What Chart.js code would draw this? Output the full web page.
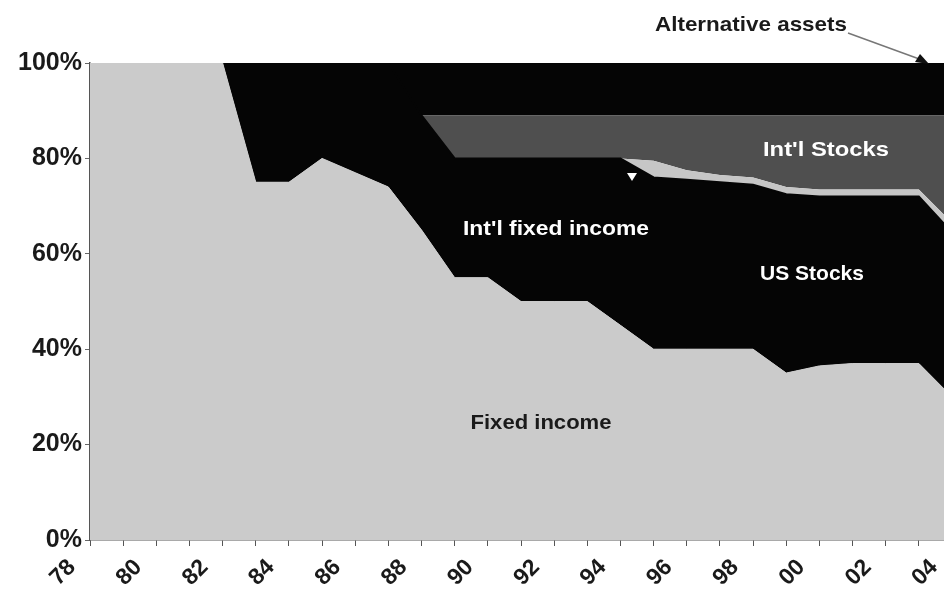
<!DOCTYPE html>
<html>
<head>
<meta charset="utf-8">
<script src="https://cdn.jsdelivr.net/npm/chart.js@4.4.1/dist/chart.umd.min.js"></script>
<style>
  html, body { margin: 0; padding: 0; background: #fff; overflow: hidden; }
  #wrap { width: 960px; height: 603px; position: relative; }
</style>
</head>
<body>
<div id="wrap"><canvas id="allocChart"></canvas></div>
<script>
// allocation by year, percent of portfolio (stacked bottom to top)
const years = ['78','79','80','81','82','83','84','85','86','87','88','89','90','91','92','93','94','95','96','97','98','99','00','01','02','03','04'];
const fixedIncome = [100,100,100,100,100,75,75,80,77,74,65,55,55,50,50,50,45,40,40,40,40,35,36.5,37,37,37,30];
const usStocks    = [0,0,0,0,0,25,25,20,23,26,24,25,25,30,30,30,35,36,35.5,35,34.5,37.5,35.5,35,35,35,34.5];
const intlFixed   = [0,0,0,0,0,0,0,0,0,0,0,0,0,0,0,0,0,3.5,2,1.5,1.5,1.5,1.5,1.5,1.5,1.5,2];
const intlStocks  = [0,0,0,0,0,0,0,0,0,0,0,9,9,9,9,9,9,9.5,11.5,12.5,13,15,15.5,15.5,15.5,15.5,22.5];
const altAssets   = [0,0,0,0,0,0,0,0,0,0,11,11,11,11,11,11,11,11,11,11,11,11,11,11,11,11,11];
const yTicks = [0, 20, 40, 60, 80, 100];

const FONT = '"Liberation Sans", Arial, sans-serif';

// draw a label stretched to a given width (the source lettering is wide)
function wideText(c, text, cx, cy, w) {
    const m = c.measureText(text).width;
    c.save();
    c.translate(cx, cy);
    c.scale(w / m, 1);
    c.fillText(text, 0, 0);
    c.restore();
}

const annotations = {
    id: 'annotations',
    afterDatasetsDraw(chart) {
        const c = chart.ctx;
        c.save();
        c.font = 'bold 21px ' + FONT;
        c.textAlign = 'center';
        c.textBaseline = 'middle';

        c.fillStyle = '#ffffff';
        wideText(c, "Int'l Stocks", 826, 150, 126);
        wideText(c, "Int'l fixed income", 556, 229, 186);
        wideText(c, 'US Stocks', 812, 274, 104);

        c.fillStyle = '#1a1a1a';
        wideText(c, 'Fixed income', 541, 423, 141);
        wideText(c, 'Alternative assets', 751, 25, 192);

        // leader line to the top band
        c.strokeStyle = '#777';
        c.lineWidth = 1.5;
        c.beginPath();
        c.moveTo(848, 33);
        c.lineTo(922, 60);
        c.stroke();
        c.fillStyle = '#111';
        c.beginPath();
        c.moveTo(929, 64);
        c.lineTo(915, 62);
        c.lineTo(920, 54);
        c.closePath();
        c.fill();

        // small pointer to the int'l fixed income band
        c.fillStyle = '#ffffff';
        c.beginPath();
        c.moveTo(627, 173);
        c.lineTo(637, 173);
        c.lineTo(632, 181);
        c.closePath();
        c.fill();
        c.restore();
    }
};

function area(label, data, color, fill, edge, width) {
    return {
        label: label,
        data: data,
        backgroundColor: color,
        borderColor: edge,
        borderWidth: width,
        pointRadius: 0,
        tension: 0,
        fill: fill
    };
}

new Chart(document.getElementById('allocChart'), {
    type: 'line',
    data: {
        labels: years,
        datasets: [
            area('Fixed income', fixedIncome, '#cbcbcb', 'origin', '#cbcbcb', 1),
            area('US Stocks', usStocks, '#050505', '-1', '#050505', 2),
            area("Int'l fixed income", intlFixed, '#c6c6c6', '-1', 'transparent', 0),
            area("Int'l Stocks", intlStocks, '#4f4f4f', '-1', 'transparent', 0),
            area('Alternative assets', altAssets, '#050505', '-1', '#050505', 1)
        ]
    },
    options: {
        responsive: true,
        maintainAspectRatio: false,
        animation: false,
        layout: { padding: { top: 63, right: 8, bottom: 0, left: 0 } },
        plugins: {
            legend: { display: false },
            tooltip: { enabled: false }
        },
        scales: {
            x: {
                offset: false,
                grid: { drawOnChartArea: false, tickLength: 6, color: '#555' },
                border: { display: true, color: '#555', width: 1.5 },
                ticks: {
                    autoSkip: false,
                    minRotation: 45,
                    maxRotation: 45,
                    color: '#1a1a1a',
                    font: { family: FONT, size: 23, weight: 'bold' },
                    padding: 8,
                    labelOffset: -18,
                    callback: (v, i) => (i % 2 === 0 ? years[i] : '')
                },
                afterFit: (axis) => {
                    axis.height = 63;
                    axis.paddingLeft = 0;
                    axis.paddingRight = 0;
                }
            },
            y: {
                stacked: true,
                min: 0,
                max: 100,
                afterBuildTicks: (axis) => { axis.ticks = yTicks.map(v => ({ value: v })); },
                grid: {
                    color: (ctx) => (ctx.tick && ctx.tick.value === 100 ? '#666' : 'rgba(0,0,0,0)'),
                    tickColor: '#666',
                    tickLength: 5
                },
                border: { display: true, color: '#555', width: 1.5 },
                ticks: {
                    color: '#1a1a1a',
                    padding: 3,
                    font: { family: FONT, size: 25, weight: 'bold' },
                    callback: (v) => v + '%'
                },
                afterFit: (axis) => {
                    axis.width = 90;
                    axis.paddingTop = 0;
                    axis.paddingBottom = 0;
                }
            }
        }
    },
    plugins: [annotations]
});
</script>
</body>
</html>
